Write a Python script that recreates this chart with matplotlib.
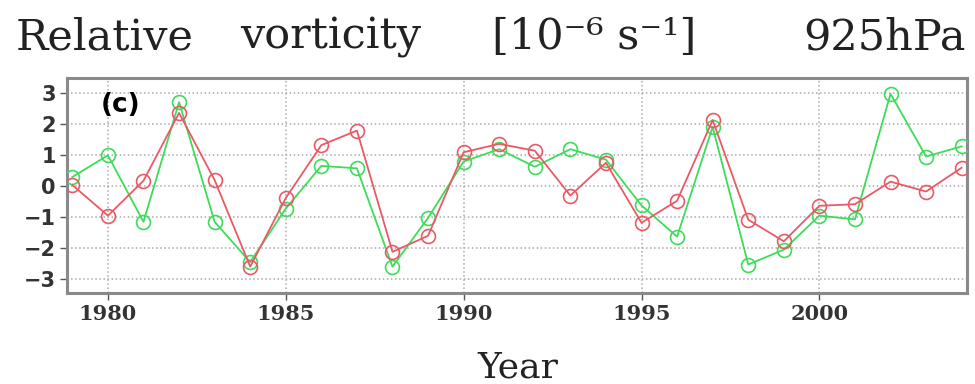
import matplotlib as mpl
mpl.use('Agg')
import matplotlib.pyplot as plt

years = list(range(1979, 2005))
green_vals = [0.3, 1.0, -1.15, 2.72, -1.15, -2.45, -0.72, 0.66, 0.58, -2.6, -1.02,
              0.8, 1.2, 0.63, 1.2, 0.86, -0.62, -1.63, 1.92, -2.53, -2.05, -0.95,
              -1.07, 2.99, 0.96, 1.29]
red_vals = [0.04, -0.95, 0.18, 2.37, 0.2, -2.6, -0.38, 1.33, 1.8, -2.12, -1.6,
            1.1, 1.37, 1.15, -0.3, 0.76, -1.18, -0.47, 2.14, -1.08, -1.78, -0.63,
            -0.58, 0.15, -0.17, 0.6]
x_ticks = [1980, 1985, 1990, 1995, 2000]
y_ticks = [-3, -2, -1, 0, 1, 2, 3]

fig = plt.figure(figsize=(9.75, 3.84), dpi=100)
ax = fig.add_axes([67 / 975, 91 / 384, 900 / 975, 215 / 384])

ax.plot(years, green_vals, color='#3ddc5a', lw=1.3, marker='o', ms=10,
        mfc='none', mec='#3ddc5a', mew=1.2, zorder=3)
ax.plot(years, red_vals, color='#ea5a66', lw=1.3, marker='o', ms=10,
        mfc='none', mec='#ea5a66', mew=1.2, zorder=4)

ax.set_xlim(1978.85, 2004.15)
ax.set_ylim(-3.45, 3.5)
ax.set_xticks(x_ticks)
ax.set_yticks(y_ticks)
ax.set_yticklabels([str(v).replace('-', '\u2212') for v in y_ticks])
ax.grid(True, ls=':', color='#aaaaaa', lw=1.1)
ax.tick_params(direction='out', length=5, width=1, color='#555555', pad=3)
for lab in ax.get_xticklabels():
    lab.set_fontfamily('DejaVu Serif')
    lab.set_fontsize(15)
    lab.set_fontweight('bold')
    lab.set_color('#333333')
for lab in ax.get_yticklabels():
    lab.set_fontfamily('DejaVu Sans')
    lab.set_fontsize(15)
    lab.set_fontweight('bold')
    lab.set_color('#333333')
for sp in ax.spines.values():
    sp.set_color('#8a8a8a')
    sp.set_linewidth(2.2)

ax.text(0.038, 0.875, '(c)', transform=ax.transAxes, fontsize=19,
        fontweight='bold', va='center', ha='left', fontfamily='DejaVu Sans')

# title pieces spaced like the original
tfont = dict(fontfamily='DejaVu Serif', fontsize=31, va='baseline', color='#222222')
fig.text(16 / 975, 1 - 49 / 384, 'Relative', **tfont)
fig.text(240 / 975, 1 - 49 / 384, 'vorticity', **tfont)
fig.text(492 / 975, 1 - 49 / 384, '[10\u207b\u2076 s\u207b\u00b9]', **tfont)
fig.text(966 / 975, 1 - 49 / 384, '925hPa', ha='right', **tfont)

fig.text(518 / 975, 1 - 377 / 384, 'Year', fontfamily='DejaVu Serif',
         fontsize=26, ha='center', va='baseline', color='#222222')

fig.savefig('out.png', dpi=100)
